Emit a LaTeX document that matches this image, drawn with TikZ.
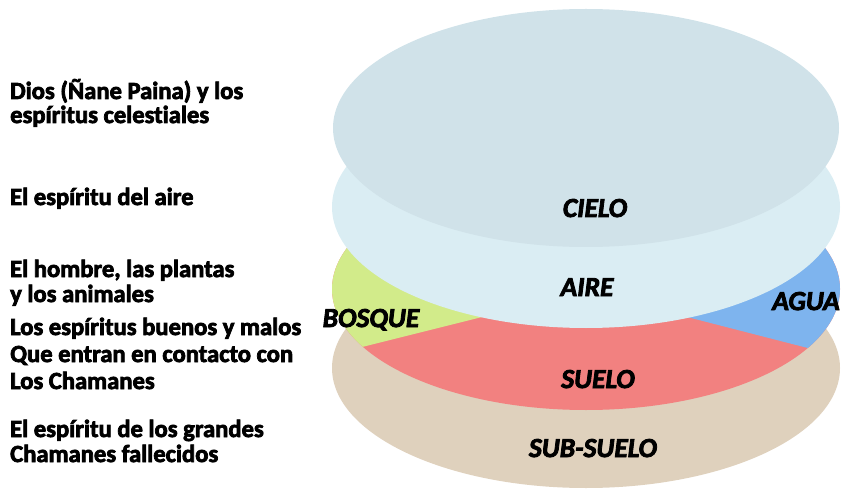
\documentclass[tikz,border=0pt]{standalone}
\usepackage{fontspec}
\setmainfont{Carlito}[Ligatures={NoCommon},BoldFeatures={FakeBold=3},BoldItalicFeatures={FakeBold=3}]
\definecolor{cielo}{HTML}{D0E2E9}
\definecolor{aire}{HTML}{DAEDF3}
\definecolor{bosque}{HTML}{D2EB8A}
\definecolor{agua}{HTML}{7EB4EE}
\definecolor{suelo}{HTML}{F28180}
\definecolor{subsuelo}{HTML}{DFD1BD}
\tikzset{
  lefttext/.style={anchor=base west, inner sep=0pt, font=\fontsize{24.6}{28}\selectfont\bfseries},
  layerlabel/.style={anchor=base, inner sep=0pt, font=\fontsize{27.5}{32}\selectfont\bfseries\itshape},
}
\begin{document}
\begin{tikzpicture}[x=1pt,y=-1pt]
\useasboundingbox (0,0) rectangle (846,489);
% bottom layer
\fill[subsuelo] (586,368) ellipse [x radius=254pt, y radius=120pt];
% middle layer
\begin{scope}
  \clip (586,289) ellipse [x radius=254pt, y radius=121pt];
  \fill[suelo] (300,150) rectangle (870,430);
  \fill[bosque] (586,291) -- (300,362.5) -- (300,150) -- (586,150) -- cycle;
  \fill[agua] (586,291) -- (870,364) -- (870,150) -- (586,150) -- cycle;
\end{scope}
% air layer
\fill[aire] (586,207) ellipse [x radius=254pt, y radius=121pt];
% sky layer
\fill[cielo] (586,128) ellipse [x radius=253pt, y radius=119pt];

% layer labels
\node[layerlabel] (cielo) at (595,217) {CIELO};
\node[layerlabel] (aire) at (587,296) {AIRE};
\node[layerlabel] (bosque) at (371,327) {BOSQUE};
\node[layerlabel] (agua) at (806,310) {AGUA};
\node[layerlabel] (suelo) at (598,388) {SUELO};
\node[layerlabel] (subsuelo) at (593,457) {SUB-SUELO};

% left texts
\node[lefttext] (l1) at (10,99) {Dios (Ñane Paina) y los};
\node[lefttext] (l2) at (10,123) {espíritus celestiales};
\node[lefttext] (l3) at (10,205) {El espíritu del aire};
\node[lefttext] (l4) at (10,277) {El hombre, las plantas};
\node[lefttext] (l5) at (10,302) {y los animales};
\node[lefttext] (l6) at (10,335) {Los espíritus buenos y malos};
\node[lefttext] (l7) at (10,362) {Que entran en contacto con};
\node[lefttext] (l8) at (10,389) {Los Chamanes};
\node[lefttext] (l9) at (10,437) {El espíritu de los grandes};
\node[lefttext] (l10) at (10,462) {Chamanes fallecidos};
\end{tikzpicture}
\end{document}
